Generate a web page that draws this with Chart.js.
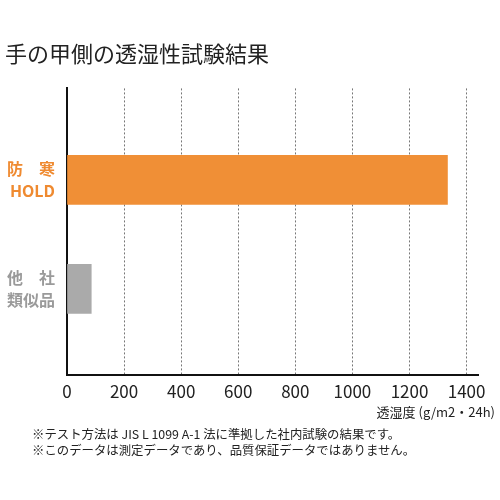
<!DOCTYPE html>
<html lang="ja">
<head>
<meta charset="utf-8">
<script src="https://cdn.jsdelivr.net/npm/chart.js@4"></script>
<style>
  body { margin: 0; background: #fff; }
  #wrap { position: relative; width: 500px; height: 500px; font-family: 'Noto Sans CJK JP', sans-serif; color: #222; }
  #unit { position: absolute; right: 5px; top: 403px; font-size: 13px; line-height: 18px; }
  #notes { position: absolute; left: 32px; top: 426px; font-size: 12.4px; line-height: 16px; }
</style>
</head>
<body>
<div id="wrap">
  <canvas id="chart" width="500" height="500"></canvas>
  <div id="unit">透湿度 (g/m2・24h)</div>
  <div id="notes">
    ※テスト方法は JIS L 1099 A-1 法に準拠した社内試験の結果です。<br>
    ※このデータは測定データであり、品質保証データではありません。
  </div>
</div>
<script>
// data
const categories = [['防　寒', 'HOLD'], ['他　社', '類似品']];
const values = [1333, 85];
const barColors = ['#f08f36', '#aaaaaa'];
const labelColors = ['#ef8a30', '#9a9a9a'];
const xTicks = [0, 200, 400, 600, 800, 1000, 1200, 1400];

Chart.defaults.font.family = "'Noto Sans CJK JP', sans-serif";

const ctx = document.getElementById('chart').getContext('2d');
new Chart(ctx, {
  type: 'bar',
  data: {
    datasets: [{
      data: values.map((v, i) => ({ x: v, y: i })),
      backgroundColor: barColors,
      barThickness: 49
    }]
  },
  options: {
    indexAxis: 'y',
    responsive: false,
    animation: false,
    layout: { padding: { left: 5, right: 22, top: 0, bottom: 95 } },
    plugins: {
      legend: { display: false },
      tooltip: { enabled: false },
      title: {
        display: true,
        text: '手の甲側の透湿性試験結果',
        align: 'start',
        color: '#222',
        font: { size: 22, weight: 'normal' },
        padding: { top: 40, bottom: 22 }
      }
    },
    scales: {
      x: {
        type: 'linear',
        min: 0,
        max: 1440,
        afterBuildTicks: (scale) => {
          scale.ticks = xTicks.map(v => ({ value: v }));
        },
        afterFit: (scale) => { scale.height = 30; },
        grid: {
          color: (c) => c.tick && c.tick.value === 0 ? 'rgba(0,0,0,0)' : '#777',
          lineWidth: 1,
          drawTicks: false
        },
        border: { display: true, color: '#111', width: 2, dash: [2, 2] },
        ticks: {
          callback: (v) => String(v),
          color: '#222',
          font: { size: 17 },
          padding: 6
        }
      },
      y: {
        type: 'linear',
        reverse: true,
        offset: false,
        min: -0.84,
        max: 1.79,
        afterBuildTicks: (scale) => {
          scale.ticks = categories.map((c, i) => ({ value: i }));
        },
        afterFit: (scale) => { scale.width = 62; },
        grid: { display: false, drawTicks: false },
        border: { display: true, color: '#111', width: 2 },
        ticks: {
          callback: (v) => categories[v],
          color: (c) => labelColors[c.index],
          font: { size: 16, weight: 'bold', lineHeight: 1.4 },
          padding: 12
        }
      }
    }
  }
});
</script>
</body>
</html>
